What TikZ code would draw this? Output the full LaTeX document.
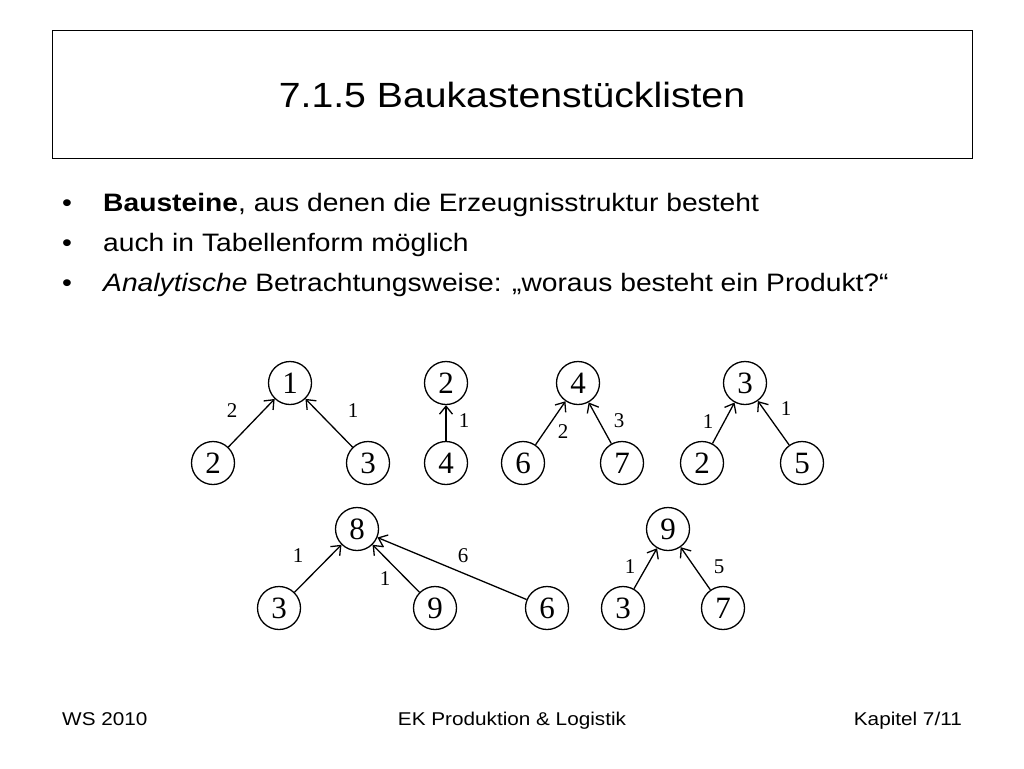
\documentclass[tikz,border=0pt]{standalone}
\usepackage{fontspec}
\setmainfont{Liberation Sans}[FakeStretch=1.12]
\newfontfamily\serifnum{Liberation Serif}
\usetikzlibrary{arrows.meta}
\tikzset{
  part/.style={circle, draw, line width=1.3pt, minimum size=43pt, inner sep=0pt, font=\serifnum\fontsize{31}{31}\selectfont},
  link/.style={line width=1.3pt, -{Straight Barb[length=8pt,width=13pt,line width=1.3pt]}},
  qty/.style={font=\serifnum\fontsize{21}{21}\selectfont, inner sep=0pt},
  bul/.style={anchor=base west, inner sep=0pt, font=\fontsize{25.2}{28}\selectfont},
  foot/.style={anchor=base, inner sep=0pt, font=\fontsize{18.5}{20}\selectfont}
}
\begin{document}
\begin{tikzpicture}[x=1pt,y=-1pt]
\useasboundingbox (0,0) rectangle (1024,768);
\fill[white] (0,0) rectangle (1024,768);
% title
\draw[line width=0.8pt] (52,30) rectangle (972,158);
\node[anchor=base, inner sep=0pt, font=\fontsize{35}{36}\selectfont] (title) at (512,107) {7.1.5 Baukastenstücklisten};
% bullets
\node[bul] (b1) at (62,211) {•};
\node[bul] (t1) at (103,211) {\textbf{Bausteine}, aus denen die Erzeugnisstruktur besteht};
\node[bul] (b2) at (62,251) {•};
\node[bul] (t2) at (103,251) {auch in Tabellenform möglich};
\node[bul] (b3) at (62,291) {•};
\node[bul] (t3) at (103,291) {\textit{Analytische} Betrachtungsweise: „woraus besteht ein Produkt?“};
% tree 1
\node[part] (a1) at (290,383) {1};
\node[part] (a2) at (213,463) {2};
\node[part] (a3) at (368,463) {3};
\draw[link] (a2) -- (a1);
\draw[link] (a3) -- (a1);
\node[qty] (la2) at (232,411) {2};
\node[qty] (la3) at (353,411) {1};
% tree 2
\node[part] (b2n) at (446,383) {2};
\node[part] (b4n) at (446,463) {4};
\draw[link] (b4n) -- (b2n);
\node[qty] (lb) at (464,421) {1};
% tree 3
\node[part] (c4) at (578,383) {4};
\node[part] (c6) at (523,463) {6};
\node[part] (c7) at (622,463) {7};
\draw[link] (c6) -- (c4);
\draw[link] (c7) -- (c4);
\node[qty] (lc6) at (563,432) {2};
\node[qty] (lc7) at (619,421) {3};
% tree 4
\node[part] (d3) at (745,383) {3};
\node[part] (d2) at (702,463) {2};
\node[part] (d5) at (802,463) {5};
\draw[link] (d2) -- (d3);
\draw[link] (d5) -- (d3);
\node[qty] (ld2) at (708,422) {1};
\node[qty] (ld5) at (786,409) {1};
% tree 5
\node[part] (e8) at (357,529) {8};
\node[part] (e3) at (279,608) {3};
\node[part] (e9) at (435,608) {9};
\node[part] (e6) at (547,608) {6};
\draw[link] (e3) -- (e8);
\draw[link] (e9) -- (e8);
\draw[link] (e6) -- (e8);
\node[qty] (le3) at (298,556) {1};
\node[qty] (le9) at (385,579) {1};
\node[qty] (le6) at (463,556) {6};
% tree 6
\node[part] (f9) at (668,529) {9};
\node[part] (f3) at (623,608) {3};
\node[part] (f7) at (723,608) {7};
\draw[link] (f3) -- (f9);
\draw[link] (f7) -- (f9);
\node[qty] (lf3) at (630,567) {1};
\node[qty] (lf7) at (719,567) {5};
% footer
\node[foot, anchor=base west] (fl) at (62,725) {WS 2010};
\node[foot] (fc) at (512,725) {EK Produktion \& Logistik};
\node[foot, anchor=base east] (fr) at (962,725) {Kapitel 7/11};
\end{tikzpicture}
\end{document}
